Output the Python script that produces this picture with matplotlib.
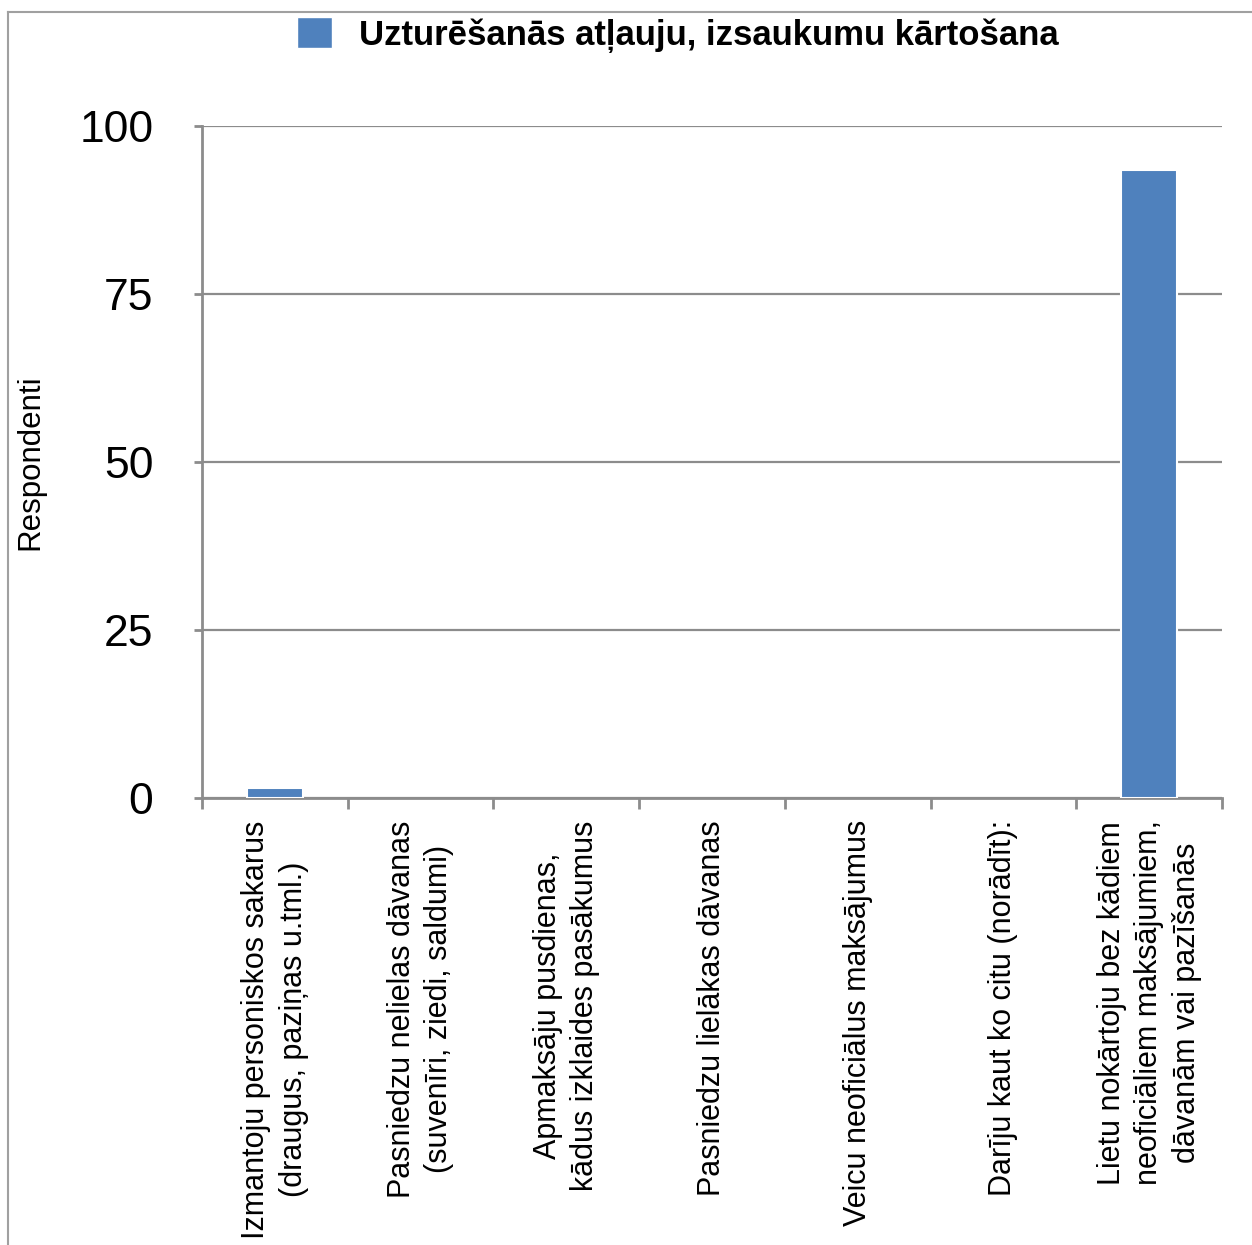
import numpy as np
import matplotlib
matplotlib.use('Agg')
import matplotlib.pyplot as plt
import matplotlib.patheffects as pe
from matplotlib.lines import Line2D
from matplotlib.patches import Patch

plt.rcParams['font.family'] = ['Liberation Sans', 'DejaVu Sans']

# Dati
kategorijas = [
    'Izmantoju personiskos sakarus\n(draugus, paziņas u.tml.)',
    'Pasniedzu nelielas dāvanas\n(suvenīri, ziedi, saldumi)',
    'Apmaksāju pusdienas,\nkādus izklaides pasākumus',
    'Pasniedzu lielākas dāvanas',
    'Veicu neoficiālus maksājumus',
    'Darīju kaut ko citu (norādīt):',
    'Lietu nokārtoju bez kādiem\nneoficiāliem maksājumiem,\ndāvanām vai pazīšanās',
]
vertibas = [1.5, 0, 0, 0, 0, 0, 93.5]
serija = 'Uzturēšanās atļauju, izsaukumu kārtošana'
y_ticks = [0, 25, 50, 75, 100]

krasa = '#4F81BD'
peleks = '#8c8c8c'

fig = plt.figure(figsize=(12.52, 12.45), dpi=100)
ax = fig.add_axes([202/1252, 1 - 798/1245, (1222 - 202)/1252, (798 - 126)/1245])

x = np.arange(len(kategorijas))
stabini = ax.bar(x, vertibas, width=0.38, color=krasa, edgecolor='white', linewidth=1.5,
                 zorder=3)
for st, v in zip(stabini, vertibas):
    if v > 0:
        st.set_path_effects([pe.SimplePatchShadow(offset=(0, -3), shadow_rgbFace='black',
                                                  alpha=0.25), pe.Normal()])
    else:
        st.set_linewidth(0)

ax.set_xlim(-0.5, len(kategorijas) - 0.5)
ax.set_ylim(0, 100)

# Y ass
ax.set_yticks(y_ticks)
ax.set_yticklabels([str(v) for v in y_ticks], fontsize=32)
ax.tick_params(axis='y', length=6, width=2, color=peleks, pad=29)
ax.yaxis.grid(True, color=peleks, linewidth=1.6, zorder=0)
ax.set_axisbelow(True)

# X ass: etiķetes centrā, atzīmes starp kategorijām
ax.set_xticks(x)
ax.set_xticklabels(kategorijas, rotation=90, fontsize=22, va='top', ha='center',
                   multialignment='center', linespacing=1.32)
ax.tick_params(axis='x', length=0, pad=16)
ax.set_xticks(np.arange(-0.5, len(kategorijas)), minor=True)
ax.tick_params(axis='x', which='minor', length=8, width=2, color=peleks, direction='out')

for s in ['top', 'right']:
    ax.spines[s].set_visible(False)
for s in ['left', 'bottom']:
    ax.spines[s].set_color(peleks)
    ax.spines[s].set_linewidth(2)

fig.text(30/1252, 1 - 462/1245, 'Respondenti', rotation=90, va='center', ha='center',
         fontsize=22.5)

# Leģenda
fig.legend(handles=[Patch(facecolor=krasa, edgecolor='white')], labels=[serija],
           loc='center', bbox_to_anchor=(678/1252, 1 - 35/1245), frameon=False,
           prop={'weight': 'bold', 'size': 25}, handlelength=1, handleheight=1,
           handletextpad=0.8)

# Ārējais rāmis
fig.add_artist(Line2D([8/1252, 8/1252], [0, 1 - 12/1245], color='#a0a0a0', lw=1.5))
fig.add_artist(Line2D([8/1252, 1], [1 - 12/1245, 1 - 12/1245], color='#a0a0a0', lw=1.5))

fig.savefig('out.png', dpi=100)
